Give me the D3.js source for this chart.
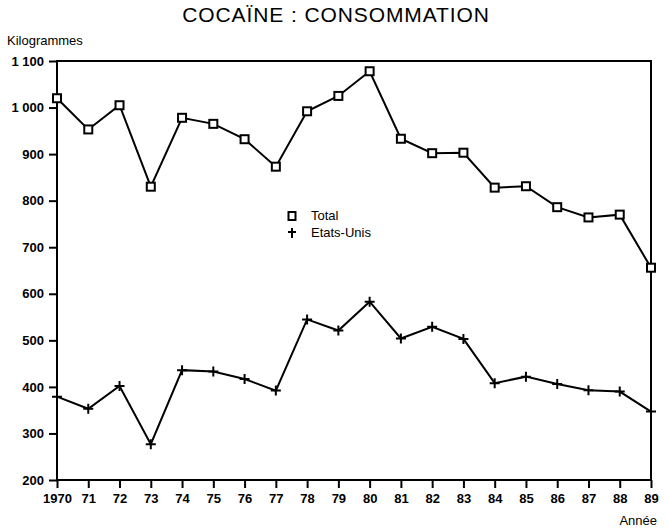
<!DOCTYPE html>
<html>
<head>
<meta charset="utf-8">
<script src="https://cdn.jsdelivr.net/npm/d3@7"></script>
<style>
  body { margin: 0; background: #fff; }
  svg { display: block; font-family: "Liberation Sans", Arial, sans-serif; }
</style>
</head>
<body>
<svg id="chart" width="668" height="528"></svg>
<script>
// data
var years = [1970, 1971, 1972, 1973, 1974, 1975, 1976, 1977, 1978, 1979,
             1980, 1981, 1982, 1983, 1984, 1985, 1986, 1987, 1988, 1989];
var yearLabels = ["1970", "71", "72", "73", "74", "75", "76", "77", "78", "79",
                  "80", "81", "82", "83", "84", "85", "86", "87", "88", "89"];
var total = [1020, 953, 1005, 830, 978, 965, 932, 873, 992, 1025,
             1078, 933, 902, 903, 828, 831, 786, 764, 770, 656];
var etatsUnis = [379, 353, 402, 277, 436, 433, 417, 392, 545, 521,
                 583, 504, 529, 503, 408, 422, 406, 393, 390, 347];
var yTicks = [200, 300, 400, 500, 600, 700, 800, 900, 1000, 1100];

var svg = d3.select("#chart");
var margin = { top: 61, right: 17, bottom: 48, left: 57 };
var width = 668 - margin.left - margin.right;
var height = 528 - margin.top - margin.bottom;

var g = svg.append("g")
  .attr("transform", "translate(" + margin.left + "," + margin.top + ")");

var x = d3.scaleLinear().domain([1970, 1989]).range([0, width]);
var y = d3.scaleLinear().domain([200, 1100]).range([height, 0]);

// title
svg.append("text")
  .attr("x", 336).attr("y", 22)
  .attr("text-anchor", "middle")
  .style("font-size", "21px")
  .style("letter-spacing", "0.9px")
  .text("COCAÏNE : CONSOMMATION");

svg.append("text")
  .attr("x", 7).attr("y", 45)
  .style("font-size", "13px")
  .text("Kilogrammes");

svg.append("text")
  .attr("x", 657).attr("y", 525)
  .attr("text-anchor", "end")
  .style("font-size", "13px")
  .text("Année");

// frame
g.append("rect")
  .attr("width", width).attr("height", height)
  .attr("fill", "none")
  .attr("stroke", "#000")
  .attr("stroke-width", 2);

// Y axis
var yAxis = g.append("g")
  .call(d3.axisLeft(y).tickValues(yTicks).tickSize(8)
    .tickFormat(function(d) { return d >= 1000 ? "1 " + String(d).slice(1) : d; }));
yAxis.select(".domain").remove();
yAxis.selectAll("line").attr("stroke-width", 2);
yAxis.selectAll("text")
  .style("font-size", "13px").style("font-weight", "bold")
  .style("font-family", "'Liberation Sans', Arial, sans-serif")
  .attr("x", -13);

// X axis
var xAxis = g.append("g")
  .attr("transform", "translate(0," + height + ")")
  .call(d3.axisBottom(x).tickValues(years).tickSize(8)
    .tickFormat(function(d, i) { return yearLabels[i]; }));
xAxis.select(".domain").remove();
xAxis.selectAll("line").attr("stroke-width", 2);
xAxis.selectAll("text")
  .style("font-size", "13px").style("font-weight", "bold")
  .style("font-family", "'Liberation Sans', Arial, sans-serif")
  .attr("y", 14);

// lines
var line = d3.line()
  .x(function(d, i) { return x(years[i]); })
  .y(function(d) { return y(d); });

g.append("path").datum(total)
  .attr("d", line).attr("fill", "none")
  .attr("stroke", "#000").attr("stroke-width", 2);

g.append("path").datum(etatsUnis)
  .attr("d", line).attr("fill", "none")
  .attr("stroke", "#000").attr("stroke-width", 2);

// markers: squares for total
g.selectAll(".sq").data(total).enter()
  .append("rect").attr("class", "sq")
  .attr("x", function(d, i) { return x(years[i]) - 4; })
  .attr("y", function(d) { return y(d) - 4; })
  .attr("width", 8).attr("height", 8)
  .attr("fill", "#fff").attr("stroke", "#000").attr("stroke-width", 2);

// crosses for Etats-Unis
g.selectAll(".cr").data(etatsUnis).enter()
  .append("path").attr("class", "cr")
  .attr("transform", function(d, i) { return "translate(" + x(years[i]) + "," + y(d) + ")"; })
  .attr("d", "M-5,0H5M0,-5V5")
  .attr("stroke", "#000").attr("stroke-width", 2);

// legend
var legend = svg.append("g").attr("transform", "translate(292,216)");
legend.append("rect")
  .attr("x", -3.5).attr("y", -4).attr("width", 7).attr("height", 8)
  .attr("fill", "#fff").attr("stroke", "#000").attr("stroke-width", 2);
legend.append("text").attr("x", 19).attr("y", 4)
  .style("font-size", "13px").text("Total");
legend.append("path")
  .attr("transform", "translate(0,17)")
  .attr("d", "M-4,-1H4M0,-5V5")
  .attr("stroke", "#000").attr("stroke-width", 2);
legend.append("text").attr("x", 19).attr("y", 21)
  .style("font-size", "13px").text("Etats-Unis");
</script>
</body>
</html>
